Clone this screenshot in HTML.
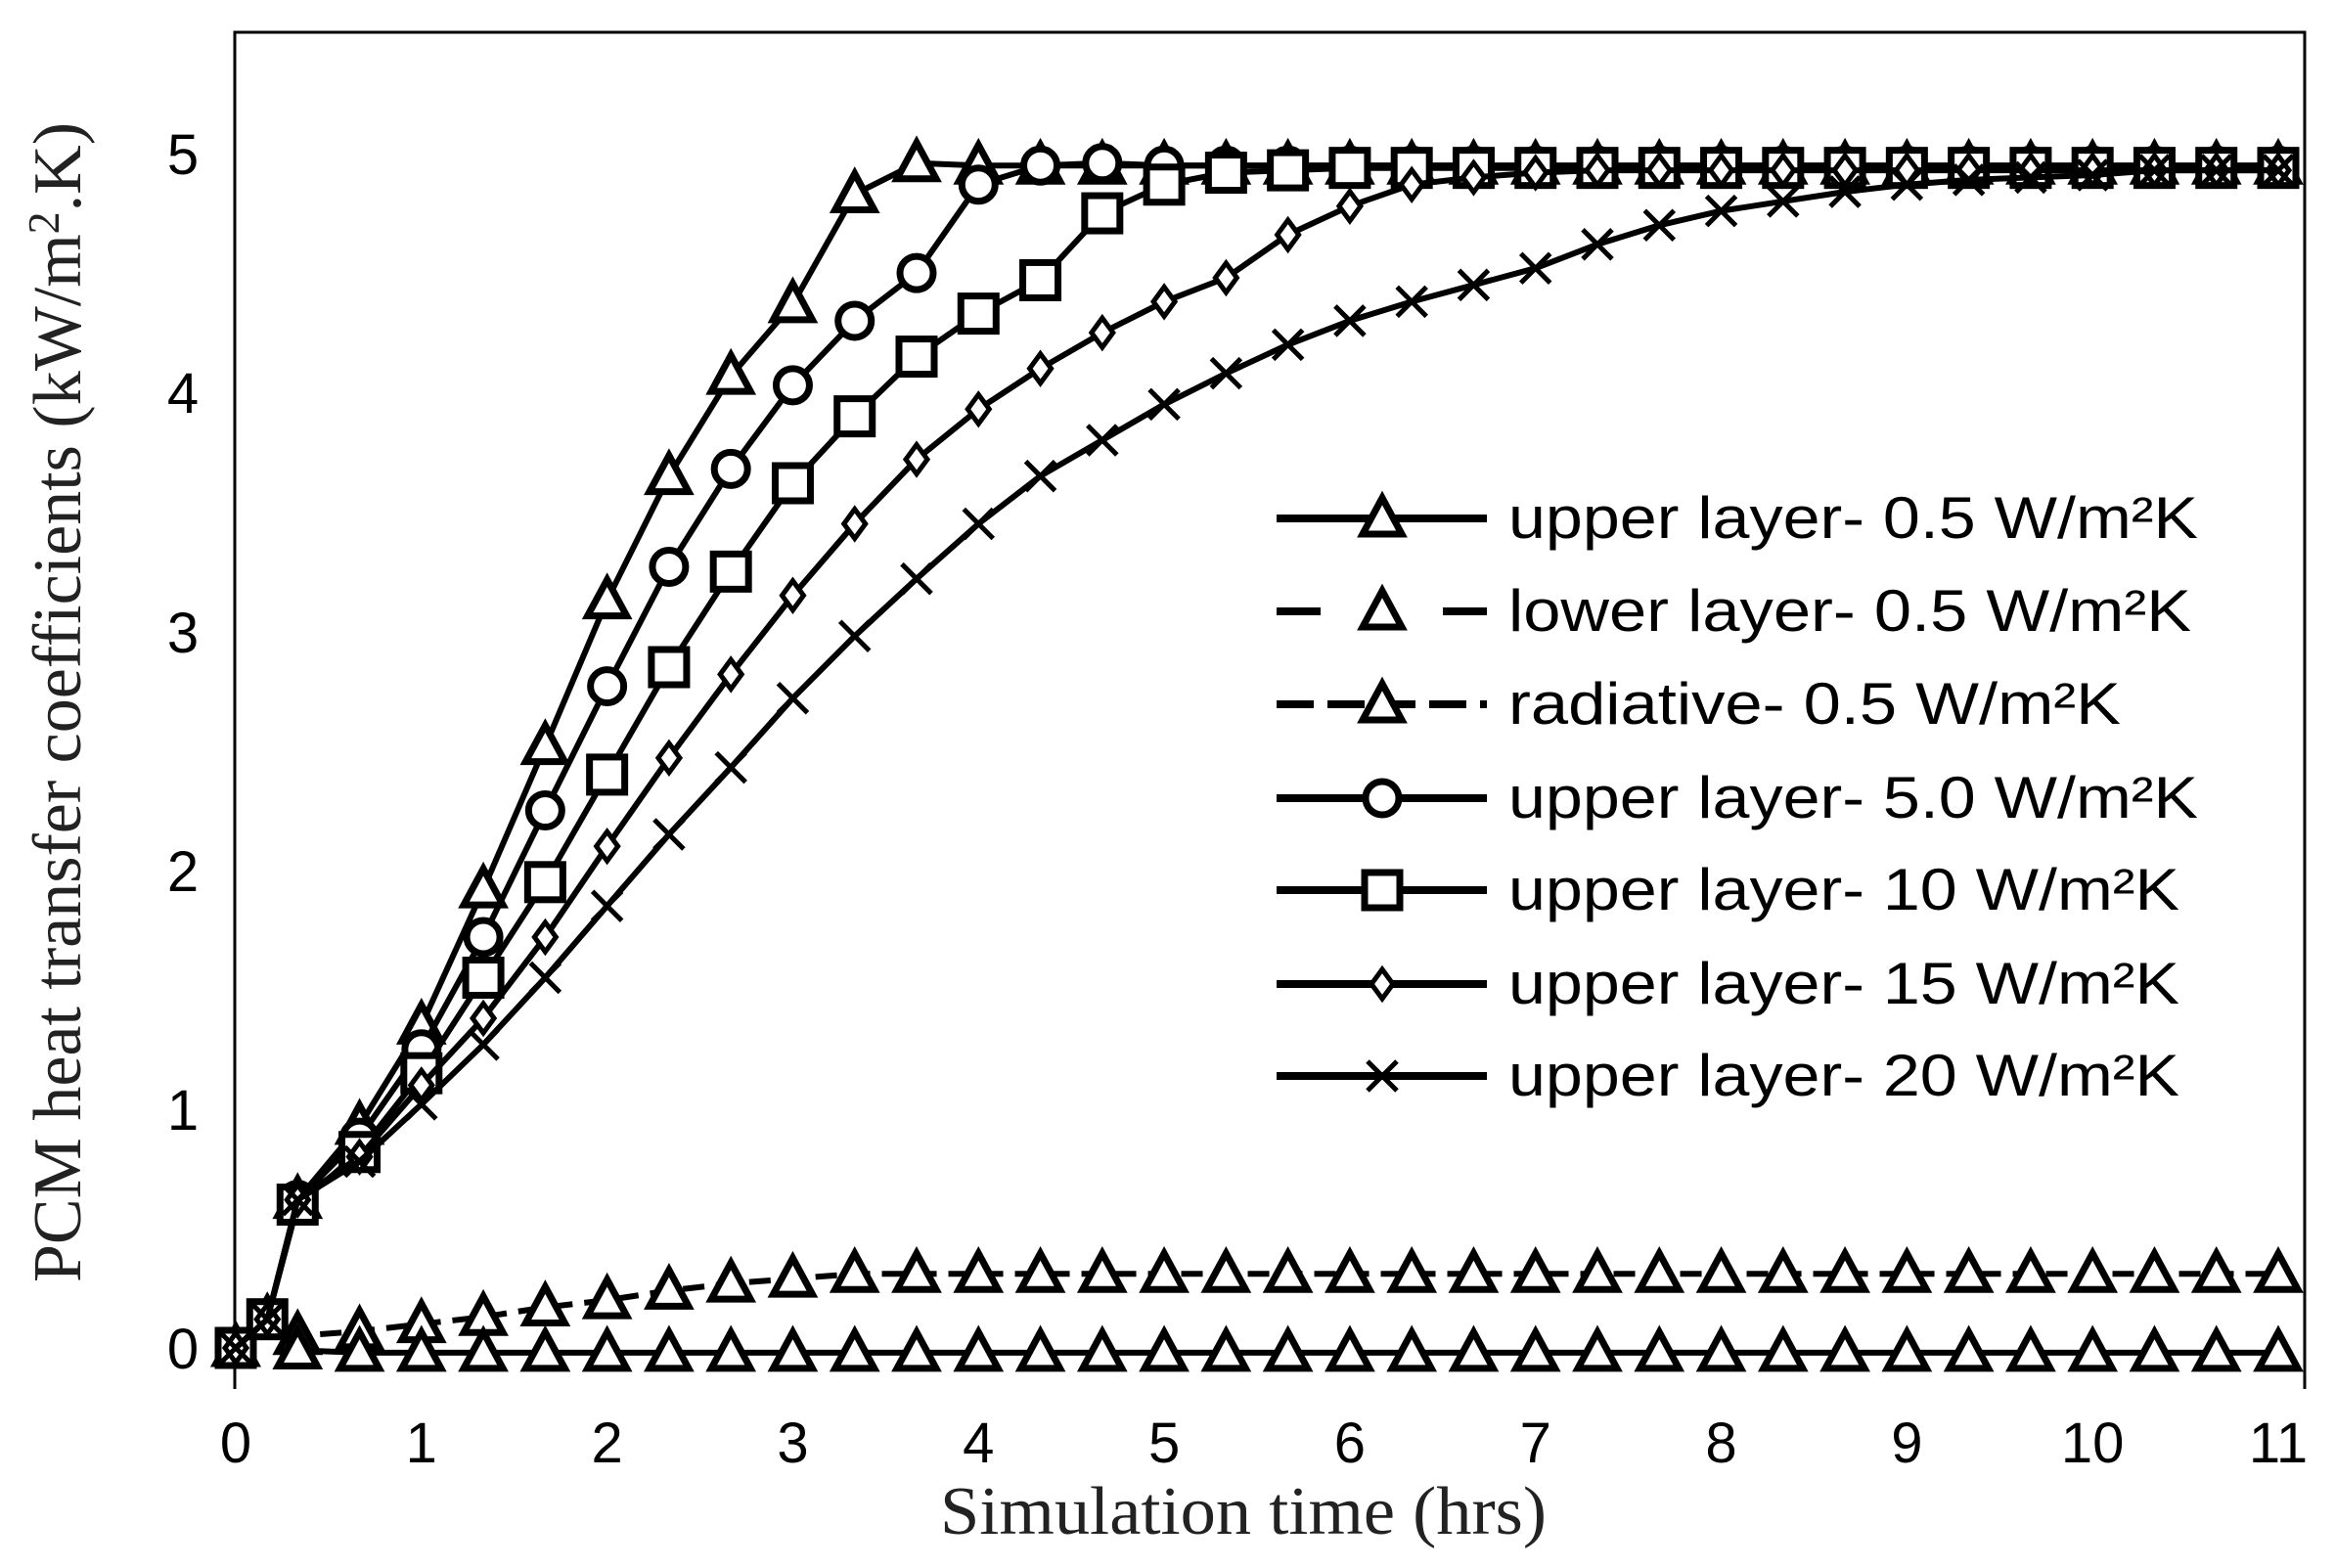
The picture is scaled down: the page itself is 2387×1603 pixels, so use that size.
<!DOCTYPE html>
<html><head><meta charset="utf-8"><style>
html,body{margin:0;padding:0;background:#fff;}
svg{display:block;}
</style></head><body>
<svg id="s" xmlns="http://www.w3.org/2000/svg" width="2387" height="1603" viewBox="0 0 2387 1603">
<rect width="2387" height="1603" fill="#fff"/>
<path d="M240 1420 V33 H2356 V1420" fill="none" stroke="#000" stroke-width="3"/>
<g font-family="Liberation Sans, sans-serif" font-size="58" text-anchor="middle" fill="#000">
<text x="187" y="1399">0</text><text x="187" y="1155">1</text><text x="187" y="911">2</text>
<text x="187" y="667">3</text><text x="187" y="422">4</text><text x="187" y="178">5</text>
</g>
<g id="xl" font-family="Liberation Sans, sans-serif" font-size="58" text-anchor="middle" fill="#000"></g>
<text x="1271" y="1568" font-family="Liberation Serif, serif" font-size="70" text-anchor="middle" fill="#222" textLength="620" lengthAdjust="spacingAndGlyphs">Simulation time (hrs)</text>
<text transform="translate(82,718) rotate(-90)" font-family="Liberation Serif, serif" font-size="70" text-anchor="middle" fill="#222">PCM heat transfer coefficients (kW/m<tspan dy="-22" font-size="46">2</tspan><tspan dy="22">.K)</tspan></text>
<g id="plot"></g>
<g id="leg"></g>
</svg>
<script>
var NS="http://www.w3.org/2000/svg";
function X(t){return 241+t*(2329-241)/11;}
function Y(v){return 1378-v*(1378-157)/5;}
function el(n,a,p){var e=document.createElementNS(NS,n);for(var k in a)e.setAttribute(k,a[k]);p.appendChild(e);return e;}
var xl=document.getElementById('xl');
for(var i=0;i<=11;i++){var t=el('text',{x:X(i),y:1495},xl);t.textContent=i;}
var plot=document.getElementById('plot'),leg=document.getElementById('leg');
function marker(type,x,y,p){
 var a={fill:'#fff',stroke:'#000','stroke-width':7};
 if(type=='tri'){a.points=(x)+','+(y-21)+' '+(x-20)+','+(y+16)+' '+(x+20)+','+(y+16);el('polygon',a,p);}
 else if(type=='cir'){a.cx=x;a.cy=y;a.r=17;el('circle',a,p);}
 else if(type=='sq'){a.x=x-18;a.y=y-18;a.width=36;a.height=36;el('rect',a,p);}
 else if(type=='dia'){a['stroke-width']=5;a.points=x+','+(y-15)+' '+(x-11)+','+y+' '+x+','+(y+15)+' '+(x+11)+','+y;el('polygon',a,p);}
 else if(type=='x'){el('path',{d:'M'+(x-15)+' '+(y-15)+'L'+(x+15)+' '+(y+15)+'M'+(x+15)+' '+(y-15)+'L'+(x-15)+' '+(y+15),stroke:'#000','stroke-width':5},p);}
}
function series(head,vals,plateau,type,dash){
 var pts=[[0,0],[0.17,0.12]].concat(head);
 for(var k=0;k<vals.length;k++)pts.push([(k+1)/3,vals[k]]);
 var last=pts[pts.length-1][0];
 for(var t=last+1/3;t<=11.01;t+=1/3)pts.push([t,plateau]);
 var d=pts.map(function(p,i){return (i?'L':'M')+X(p[0]).toFixed(1)+' '+Y(p[1]).toFixed(1);}).join('');
 var a={d:d,fill:'none',stroke:'#000','stroke-width':6,'stroke-linejoin':'round'};
 if(dash)a['stroke-dasharray']=dash;
 el('path',a,plot);
 for(var i=0;i<pts.length;i++){marker(type,X(pts[i][0]),Y(pts[i][1]),plot);}
}
series([],[0.05,0.07,0.1,0.13,0.17,0.2,0.24,0.27,0.29,0.31],0.31,'tri','22,12');
series([],[-0.01,-0.02,-0.02,-0.02],-0.02,'tri',null);
series([],[0.62,0.93,1.35,1.92,2.52,3.13,3.65,4.07,4.37,4.83,4.96],4.95,'tri',null);
series([],[0.62,0.88,1.25,1.72,2.25,2.77,3.27,3.68,4.03,4.3,4.5,4.87,4.95,4.96],4.95,'cir',null);
series([],[0.6,0.82,1.15,1.55,1.95,2.4,2.85,3.25,3.62,3.9,4.15,4.33,4.47,4.75,4.87,4.92,4.93],4.94,'sq',null);
series([],[0.62,0.8,1.1,1.38,1.72,2.1,2.47,2.82,3.15,3.45,3.72,3.93,4.1,4.25,4.38,4.48,4.66,4.78,4.87,4.9,4.92],4.93,'dia',null);
series([],[0.62,0.78,1.02,1.27,1.55,1.85,2.15,2.43,2.72,2.98,3.22,3.45,3.65,3.8,3.95,4.08,4.2,4.3,4.38,4.45,4.52,4.62,4.7,4.76,4.8,4.84,4.87,4.89,4.9,4.91],4.93,'x',null);
var L=[['tri',null,'upper layer- 0.5 W/m²K',705],['tri','45,125','lower layer- 0.5 W/m²K',698],['tri','38,14','radiative- 0.5 W/m²K',626],
['cir',null,'upper layer- 5.0 W/m²K',705],['sq',null,'upper layer- 10 W/m²K',686],['dia',null,'upper layer- 15 W/m²K',686],['x',null,'upper layer- 20 W/m²K',686]];
var ys=[530,625,720,816,910,1006,1100];
L.forEach(function(r,i){
 var y=ys[i];var a={x1:1305,x2:1520,y1:y,y2:y,stroke:'#000','stroke-width':8};
 if(r[1])a['stroke-dasharray']=r[1];
 el('line',a,leg);marker(r[0],1413,y,leg);
 var t=el('text',{x:1542,y:y+20,'font-family':'Liberation Sans, sans-serif','font-size':60,fill:'#000',textLength:r[3],lengthAdjust:'spacingAndGlyphs'},leg);t.textContent=r[2];
});
</script>
</body></html>
